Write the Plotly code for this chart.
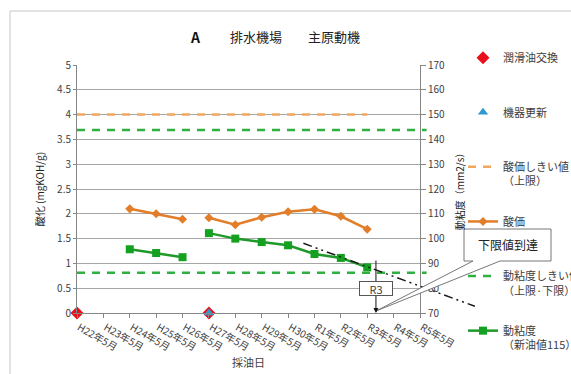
import plotly.graph_objects as go

# ---- data -------------------------------------------------------------
periods = ["H22年5月", "H23年5月", "H24年5月", "H25年5月", "H26年5月", "H27年5月",
           "H28年5月", "H29年5月", "H30年5月", "R1年5月", "R2年5月", "R3年5月",
           "R4年5月", "R5年5月"]
idx = list(range(len(periods)))

# 酸価 (mgKOH/g): before / after 機器更新
acid_x_a = [2, 3, 4]
acid_a = [2.10, 2.00, 1.89]
acid_x_b = [5, 6, 7, 8, 9, 10, 11]
acid_b = [1.92, 1.78, 1.93, 2.04, 2.09, 1.95, 1.69]

# 動粘度 (mm2/s)
visc_x_a = [2, 3, 4]
visc_a = [95.7, 94.2, 92.5]
visc_x_b = [5, 6, 7, 8, 9, 10, 11]
visc_b = [102.2, 100.0, 98.6, 97.3, 93.8, 92.2, 88.4]

# events
oil_change_x = [0, 5]
oil_change_y = [0, 0]
renewal_x = [5]
renewal_y = [0]

# thresholds
acid_limit = 4.0
acid_limit_x = [0, 11]
visc_new = 115
visc_upper = visc_new * 1.25
visc_lower = visc_new * 0.75
visc_limit_x = [0, 13.25]

# viscosity trend (extrapolated)
trend_x = [8.58, 15.08]
trend_y = [98.1, 72.7]
reach_x = 11.33  # 下限値到達 (R3)

# ---- layout geometry ----------------------------------------------------
W, H = 571, 374
PL, PR, PT, PB = 77, 420, 65, 313  # plot area in pixels
WIDE_R = 480                        # extended area for trend / limit lines


def px(x):
    return x / W


def py(y):
    return 1 - y / H


FONT = "Noto Sans CJK JP, Noto Sans, sans-serif"
TXT = "#404040"
GRID = "#a6a6a6"
ORANGE = "#e27d2a"
ORANGE_L = "#f0a860"
GREEN = "#1f9a2a"
GREEN_L = "#2fb040"

x3_max = 13 * (WIDE_R - PL) / (PR - PL)

fig = go.Figure()

fig.add_trace(go.Scatter(
    x=oil_change_x, y=oil_change_y, mode="markers", name="潤滑油交換<br> ",
    marker=dict(symbol="diamond", size=10, color="#e8101a"),
    cliponaxis=False, legendgroup="g1"))
fig.add_trace(go.Scatter(
    x=renewal_x, y=renewal_y, mode="markers", name="機器更新<br> ",
    marker=dict(symbol="triangle-up", size=9, color="#2e9ad0"),
    cliponaxis=False, legendgroup="g2"))
fig.add_trace(go.Scatter(
    x=acid_limit_x, y=[acid_limit] * 2, mode="lines", name="酸価しきい値<br>（上限）",
    line=dict(color=ORANGE_L, width=2.5, dash="8px,7px"), legendgroup="g3"))
fig.add_trace(go.Scatter(
    x=acid_x_a, y=acid_a, mode="lines+markers", name="酸価<br> ",
    line=dict(color=ORANGE, width=2.5), marker=dict(symbol="diamond", size=7),
    legendgroup="g4"))
fig.add_trace(go.Scatter(
    x=acid_x_b, y=acid_b, mode="lines+markers", name="酸価",
    line=dict(color=ORANGE, width=2.5), marker=dict(symbol="diamond", size=7),
    legendgroup="g4", showlegend=False))
fig.add_trace(go.Scatter(
    x=visc_limit_x + [None] + visc_limit_x,
    y=[visc_upper] * 2 + [None] + [visc_lower] * 2,
    mode="lines", name="動粘度しきい値<br>（上限·下限）",
    line=dict(color=GREEN_L, width=2.5, dash="8px,7px"),
    xaxis="x3", yaxis="y3", legendgroup="g5"))
fig.add_trace(go.Scatter(
    x=trend_x, y=trend_y, mode="lines", showlegend=False,
    line=dict(color="#1a1a1a", width=1.5, dash="9px,4px,2px,4px,2px,4px"),
    xaxis="x3", yaxis="y3"))
fig.add_trace(go.Scatter(
    x=visc_x_a, y=visc_a, mode="lines+markers", name="動粘度<br>（新油値115）",
    line=dict(color=GREEN, width=2.5),
    marker=dict(symbol="square", size=8, color="#14a020"),
    yaxis="y2", legendgroup="g6"))
fig.add_trace(go.Scatter(
    x=visc_x_b, y=visc_b, mode="lines+markers", name="動粘度",
    line=dict(color=GREEN, width=2.5),
    marker=dict(symbol="square", size=8, color="#14a020"),
    yaxis="y2", legendgroup="g6", showlegend=False))

ydom = [py(PB), py(PT)]

fig.update_layout(
    width=W, height=H,
    margin=dict(l=0, r=0, t=0, b=0, autoexpand=False),
    paper_bgcolor="white", plot_bgcolor="rgba(0,0,0,0)",
    font=dict(family=FONT, size=10, color=TXT),
    xaxis=dict(
        domain=[px(PL), px(PR)], range=[0, 13], tickmode="array",
        tickvals=idx, ticktext=periods, tickangle=30, ticklabelshift=2,
        ticks="outside", ticklen=4, tickcolor="#868686",
        showline=True, linecolor="#868686", showgrid=False, zeroline=False,
        tickfont=dict(size=10, color=TXT), automargin=False,
        title=dict(text="採油日", font=dict(size=11, color=TXT), standoff=2),
        anchor="y"),
    yaxis=dict(
        domain=ydom, range=[0, 5], dtick=0.5,
        ticks="outside", ticklen=3, tickcolor="#868686",
        showline=True, linecolor="#868686", showgrid=True, gridcolor=GRID,
        zeroline=False, tickfont=dict(size=10, color=TXT), automargin=False,
        title=dict(text="酸化 (mgKOH/g)", font=dict(size=10, color="#222"), standoff=10)),
    yaxis2=dict(
        overlaying="y", side="right", range=[70, 170], dtick=10,
        ticks="outside", ticklen=5, tickcolor="#868686",
        showline=True, linecolor="#868686", showgrid=False, zeroline=False,
        tickfont=dict(size=10, color=TXT), automargin=False,
        title=dict(text="動粘度（mm2/s）", font=dict(size=10, color="#222"), standoff=12)),
    xaxis3=dict(domain=[px(PL), px(WIDE_R)], range=[0, x3_max], visible=False,
                anchor="y3"),
    yaxis3=dict(domain=ydom, range=[70, 170], visible=False, anchor="x3"),
    legend=dict(
        x=px(463), y=py(44), xanchor="left", yanchor="top",
        traceorder="grouped", tracegroupgap=23, valign="top",
        font=dict(size=11, color=TXT), bgcolor="rgba(0,0,0,0)",
        itemwidth=30),
    showlegend=True,
)

# chart frame
fig.add_shape(type="rect", xref="paper", yref="paper",
              x0=px(10), x1=px(W + 20), y0=py(H + 20), y1=py(11),
              line=dict(color="#c8c8c8", width=1), fillcolor="rgba(0,0,0,0)",
              layer="below")

# title
title_parts = [("<b>A</b>", 195, 14, "#111"), ("排水機場", 256, 13, "#222"),
               ("主原動機", 334, 13, "#222")]
for txt, cx, size, col in title_parts:
    fig.add_annotation(text=txt, x=px(cx), y=py(37), xref="paper", yref="paper",
                       xanchor="center", yanchor="middle", showarrow=False,
                       font=dict(size=size, color=col))

# 下限値到達 arrow and label
fig.add_annotation(x=reach_x, y=70, xref="x", yref="y2", text="",
                   showarrow=True, ax=0, ay=-54, arrowhead=2, arrowsize=1,
                   arrowwidth=1, arrowcolor="#111")
fig.add_annotation(x=reach_x, y=79.7, xref="x", yref="y2", text="R3",
                   showarrow=False, bgcolor="white", bordercolor="#555",
                   borderwidth=1, borderpad=1, width=30, height=11,
                   xanchor="center", yanchor="middle",
                   font=dict(size=11, color=TXT))

# callout box
bx0, bx1, by0, by1 = 464, 551, 229, 261
tip = (376, 311)
path = (f"M {px(bx0)},{py(by0)} L {px(bx1)},{py(by0)} L {px(bx1)},{py(by1)} "
        f"L {px(500)},{py(by1)} L {px(tip[0])},{py(tip[1])} L {px(473)},{py(by1)} "
        f"L {px(bx0)},{py(by1)} Z")
fig.add_shape(type="path", path=path, xref="paper", yref="paper",
              line=dict(color="#777", width=1), fillcolor="white")
fig.add_annotation(text="下限値到達", x=px((bx0 + bx1) / 2), y=py((by0 + by1) / 2),
                   xref="paper", yref="paper", xanchor="center", yanchor="middle",
                   showarrow=False, font=dict(size=12, color="#222"))

fig.write_html("out.html")
